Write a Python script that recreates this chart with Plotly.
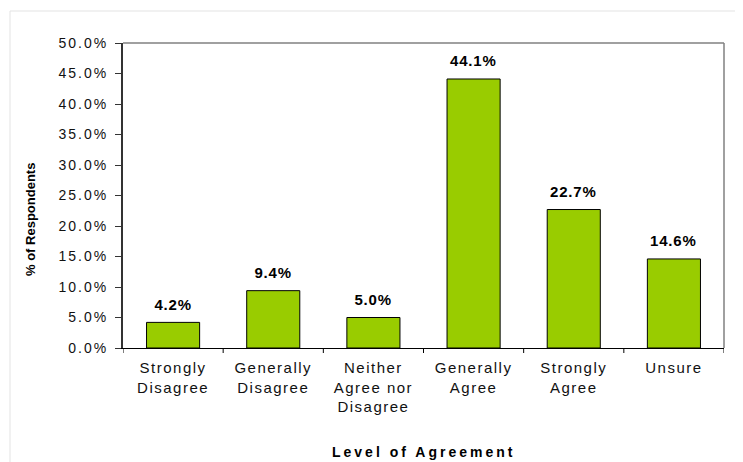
import plotly.graph_objects as go

categories = ["Strongly<br>Disagree", "Generally<br>Disagree", "Neither<br>Agree nor<br>Disagree",
              "Generally<br>Agree", "Strongly<br>Agree", "Unsure"]
values = [4.2, 9.4, 5.0, 44.1, 22.7, 14.6]
tick_vals = [0, 5, 10, 15, 20, 25, 30, 35, 40, 45, 50]
tick_text = [f"{v:.1f}%" for v in tick_vals]
x_title = "Level of Agreement"
y_title = "% of Respondents"

FONT = "Liberation Sans, Arial, sans-serif"
W, H = 735, 454
ML, MT, PW, PH = 115, 35, 601, 305
MR, MB = W - ML - PW, H - MT - PH


def px_x(fx):
    return (fx - ML) / PW


def px_y(fy):
    return (MT + PH - fy) / PH


fig = go.Figure()
fig.add_trace(go.Bar(
    x=list(range(len(categories))),
    y=values,
    marker=dict(color="#99CC00", line=dict(color="#000000", width=1)),
    width=0.53,
    hoverinfo="skip",
))

annotations = [
    dict(text=f"<b>{x_title}</b>", xref="paper", yref="paper", x=0.5, y=px_y(444),
         xanchor="center", yanchor="middle", showarrow=False,
         font=dict(family=FONT, size=14, color="#000000")),
    dict(text=f"<b>{y_title}</b>", xref="paper", yref="paper", x=px_x(22), y=px_y(212),
         xanchor="center", yanchor="middle", showarrow=False, textangle=-90,
         font=dict(family=FONT, size=13, color="#000000")),
]
for i, v in enumerate(values):
    annotations.append(dict(text=f"<b>{v:.1f}%</b>", x=i, y=v, xref="x", yref="y",
                            yshift=18, xanchor="center", yanchor="middle", showarrow=False,
                            font=dict(family=FONT, size=15, color="#000000")))

fig.update_layout(
    width=W, height=H,
    margin=dict(l=ML, r=MR, t=MT, b=MB),
    paper_bgcolor="white", plot_bgcolor="white",
    showlegend=False,
    font=dict(family=FONT, size=14, color="#000000"),
    annotations=annotations,
    xaxis=dict(
        range=[-0.5, 5.5],
        tickmode="array",
        tickvals=list(range(len(categories))),
        ticktext=categories,
        showline=True, linecolor="#000000", linewidth=1,
        ticks="", showgrid=False, zeroline=False,
        tickfont=dict(family=FONT, size=15, color="#111111"),
        ticklabelstandoff=6,
    ),
    yaxis=dict(
        range=[0, 50],
        tickmode="array", tickvals=tick_vals, ticktext=tick_text,
        showline=True, linecolor="#333333", linewidth=2,
        ticks="outside", ticklen=6, tickcolor="#333333",
        showgrid=False, zeroline=False,
        tickfont=dict(family=FONT, size=14, color="#111111"),
        ticklabelstandoff=4,
    ),
)

# category boundary ticks on the x axis
for b in [x - 0.5 for x in range(len(categories) + 1)]:
    fig.add_shape(type="line", xref="x", yref="paper", x0=b, x1=b, y0=0, y1=-5 / PH,
                  line=dict(color="#000000", width=1))

# gray top/right frame of the plot area
fig.add_shape(type="line", xref="paper", yref="paper", x0=0, x1=1, y0=1, y1=1,
              line=dict(color="#808080", width=1.5))
fig.add_shape(type="line", xref="paper", yref="paper", x0=1, x1=1, y0=0, y1=1,
              line=dict(color="#808080", width=1.5))

# outer light border of the chart
fig.add_shape(type="rect", xref="paper", yref="paper",
              x0=px_x(2), x1=px_x(770), y0=px_y(480), y1=px_y(3),
              line=dict(color="#E3E3E3", width=1), layer="below")

post = """
var gd = document.getElementById('{plot_id}');
function sp(sel, v) { gd.querySelectorAll(sel).forEach(function (e) { e.style.letterSpacing = v; }); }
sp('.xtick text', '1.5px');
sp('.ytick text', '2px');
sp('.annotation text', '0.8px');
sp('.annotation[data-index="0"] text', '3px');
sp('.annotation[data-index="1"] text', '0px');
"""

fig.write_html("out.html", post_script=post)
